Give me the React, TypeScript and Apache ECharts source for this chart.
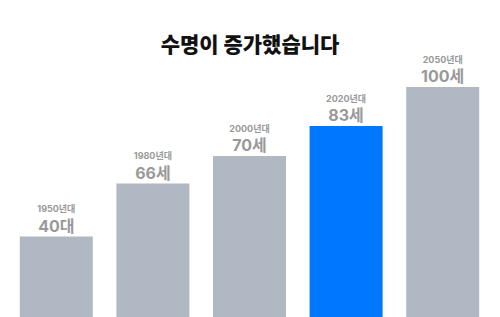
import React, { useEffect, useRef } from "react";
import * as echarts from "echarts";

const title = "수명이 증가했습니다";
const categories = ["1950년대", "1980년대", "2000년대", "2020년대", "2050년대"];
const valueLabels = ["40대", "66세", "70세", "83세", "100세"];
const values = [35, 58, 70, 83, 100];
const highlightIndex = 3;

export default function App() {
  const ref = useRef<HTMLDivElement>(null);
  useEffect(() => {
    document.body.style.margin = "0";
    const chart = echarts.init(ref.current!, null, { renderer: "svg" });
    chart.setOption({
      animation: false,
      backgroundColor: "#ffffff",
      title: {
        text: title,
        left: "center",
        top: 27,
        textStyle: {
          fontFamily: "Noto Sans CJK KR",
          fontSize: 21,
          fontWeight: 900,
          color: "#111111",
        },
      },
      grid: { left: 8, right: 9, top: 87, bottom: 0, containLabel: false },
      xAxis: {
        type: "category",
        data: categories,
        axisLine: { show: false },
        axisTick: { show: false },
        axisLabel: { show: false },
      },
      yAxis: {
        type: "value",
        min: 0,
        max: 100,
        show: false,
        splitLine: { show: false },
      },
      series: [
        {
          type: "bar",
          barWidth: 73,
          data: values.map((v, i) => ({
            value: v,
            itemStyle: { color: i === highlightIndex ? "#0077ff" : "#b0b8c3" },
          })),
          label: {
            show: true,
            position: "top",
            distance: 2,
            formatter: (p: any) => `{a|${categories[p.dataIndex]}}\n{b|${valueLabels[p.dataIndex]}}`,
            rich: {
              a: {
                fontFamily: "Inter, Noto Sans CJK KR",
                fontSize: 9,
                fontWeight: "bold",
                color: "#999999",
                lineHeight: 16,
              },
              b: {
                fontFamily: "Inter, Noto Sans CJK KR",
                fontSize: 16,
                fontWeight: "bold",
                color: "#999999",
                lineHeight: 18,
              },
            },
          },
        },
      ],
    });
    return () => chart.dispose();
  }, []);
  return (
    <div
      ref={ref}
      style={{ position: "fixed", left: 0, top: 0, width: 500, height: 317 }}
    />
  );
}
